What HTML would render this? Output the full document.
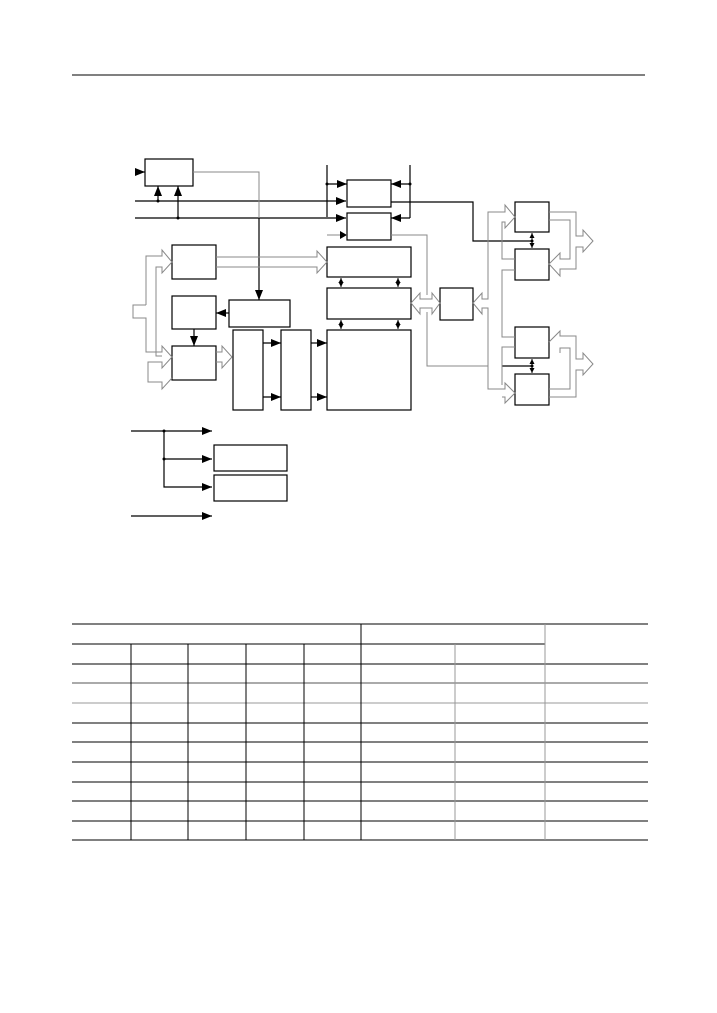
<!DOCTYPE html>
<html><head><style>body{margin:0;background:#fff}svg{display:block}</style></head>
<body>
<svg width="717" height="1013" viewBox="0 0 717 1013" xmlns="http://www.w3.org/2000/svg">
<defs>
<marker id="a" markerWidth="10" markerHeight="8" refX="10" refY="4" orient="auto" markerUnits="userSpaceOnUse"><path d="M0,0 L10,4 L0,8z" fill="#000"/></marker>
<marker id="s" markerWidth="5" markerHeight="5" refX="5" refY="2.5" orient="auto-start-reverse" markerUnits="userSpaceOnUse"><path d="M0,0 L5,2.5 L0,5z" fill="#000"/></marker>
</defs>
<line x1="72" y1="75" x2="645" y2="75" stroke="#000" stroke-width="1"/>
<g fill="none" stroke="#000" stroke-width="1.2">
<rect x="145" y="159" width="48" height="27"/>
<rect x="347" y="180" width="44" height="27"/>
<rect x="347" y="213" width="44" height="27"/>
<rect x="327" y="247" width="84" height="30"/>
<rect x="327" y="288" width="84" height="31"/>
<rect x="327" y="330" width="84" height="80"/>
<rect x="172" y="245" width="44" height="34"/>
<rect x="172" y="296" width="44" height="33"/>
<rect x="172" y="346" width="44" height="34"/>
<rect x="229" y="300" width="61" height="27"/>
<rect x="233" y="330" width="30" height="80"/>
<rect x="281" y="330" width="30" height="80"/>
<rect x="440" y="288" width="33" height="32"/>
<rect x="515" y="202" width="34" height="30"/>
<rect x="515" y="249" width="34" height="31"/>
<rect x="515" y="327" width="34" height="31"/>
<rect x="515" y="374" width="34" height="31"/>
<rect x="214" y="445" width="73" height="26"/>
<rect x="214" y="475" width="73" height="26"/>
</g>
<g stroke="#000" stroke-width="1.2" fill="none">
<line x1="137" y1="172" x2="145" y2="172" marker-end="url(#a)"/>
<line x1="135" y1="201" x2="346" y2="201" marker-end="url(#a)"/>
<line x1="135" y1="218" x2="346" y2="218" marker-end="url(#a)"/>
<line x1="158" y1="201" x2="158" y2="186" marker-end="url(#a)"/>
<line x1="178" y1="218" x2="178" y2="186" marker-end="url(#a)"/>
<line x1="259" y1="218" x2="259" y2="300" marker-end="url(#a)"/>
<line x1="229" y1="313" x2="216" y2="313" marker-end="url(#a)"/>
<line x1="194" y1="329" x2="194" y2="346" marker-end="url(#a)"/>
<line x1="263" y1="343" x2="281" y2="343" marker-end="url(#a)"/>
<line x1="263" y1="397" x2="281" y2="397" marker-end="url(#a)"/>
<line x1="311" y1="343" x2="327" y2="343" marker-end="url(#a)"/>
<line x1="311" y1="397" x2="327" y2="397" marker-end="url(#a)"/>
<line x1="327" y1="165" x2="327" y2="217"/>
<line x1="410" y1="165" x2="410" y2="218"/>
<line x1="327" y1="184" x2="347" y2="184" marker-end="url(#a)"/>
<line x1="410" y1="184" x2="391" y2="184" marker-end="url(#a)"/>
<line x1="410" y1="218" x2="391" y2="218" marker-end="url(#a)"/>
<polyline points="391,202 473,202 473,241 532,241"/>
<line x1="502" y1="366" x2="532" y2="366"/>
<line x1="131" y1="431" x2="212" y2="431" marker-end="url(#a)"/>
<polyline points="164,431 164,487 212,487" marker-end="url(#a)"/>
<line x1="164" y1="459" x2="212" y2="459" marker-end="url(#a)"/>
<line x1="131" y1="516" x2="212" y2="516" marker-end="url(#a)"/>
</g>
<g stroke="#000" stroke-width="1" marker-start="url(#s)" marker-end="url(#s)">
<line x1="341" y1="278" x2="341" y2="287"/><line x1="398" y1="278" x2="398" y2="287"/>
<line x1="341" y1="320" x2="341" y2="329"/><line x1="398" y1="320" x2="398" y2="329"/>
<line x1="532" y1="233" x2="532" y2="248"/><line x1="532" y1="359" x2="532" y2="373"/>
</g>
<g fill="#000"><circle cx="158" cy="201" r="1.5"/><circle cx="178" cy="218" r="1.5"/><circle cx="327" cy="184" r="1.5"/><circle cx="410" cy="184" r="1.5"/><circle cx="164" cy="431" r="1.5"/><circle cx="164" cy="459" r="1.5"/><circle cx="532" cy="241" r="1.5"/><circle cx="532" cy="366" r="1.5"/></g>
<g fill="none" stroke="#888" stroke-width="1">
<polyline points="193,172 259,172 259,218"/>
<polyline points="327,235 347,235"/>
<path d="M340,231 L347,235 L340,239z" fill="#000" stroke="none"/>
<polyline points="391,235 427,235 427,295"/>
<polyline points="427,312 427,366 488,366"/>
<path d="M216,257 L317,257 L317,251 L327,262 L317,273 L317,267 L216,267"/>
<path d="M216,352 L222,352 L222,346 L232,357 L222,368 L222,362 L216,362"/>
<path d="M146,305 L133,305 L133,318 L146,318 L146,352 L162,352 L162,346 L172,357 L162,368 L162,362 L148,362 L148,382 L162,382 L162,389 L172,378"/>
<path d="M146,305 L146,256 L162,256 L162,250 L172,262 L162,273 L162,267 L156,267 L156,356 L162,356"/>
<path d="M440,303 L432,293 L432,299 L420,299 L420,293 L411,303 L420,314 L420,308 L432,308 L432,314 z"/>
<path d="M473,303 L482,293 L482,299 L488,299 L488,212 L505,212 L505,205 L515,217 L505,228 L505,222 L502,222 L502,259 L515,259"/>
<path d="M473,303 L482,314 L482,308 L488,308 L488,389 L505,389 L505,383 L515,393 L505,403 L505,397 L502,397"/>
<path d="M515,270 L502,270 L502,337 L515,337 M515,347 L502,347 L502,385"/>
<path d="M549,212 L576,212 L576,236 L583,236 L583,230 L593,241 L583,252 L583,247 L576,247 L576,269 L560,269 L560,276 L549,264 L560,253 L560,259 L570,259 L570,220 L549,220"/>
<path d="M549,342 L560,331 L560,336 L576,336 L576,359 L583,359 L583,353 L593,364 L583,375 L583,370 L576,370 L576,397 L549,397 M560,353 L560,348 L570,348 L570,389 L549,389"/>
</g>
<g fill="none" stroke="#000" stroke-width="1">
<line x1="72" y1="624" x2="648" y2="624"/>
<line x1="72" y1="644" x2="545" y2="644"/>
<line x1="72" y1="664" x2="648" y2="664"/>
<line x1="72" y1="683" x2="648" y2="683" stroke="#555"/>
<line x1="72" y1="703" x2="648" y2="703" stroke="#999"/>
<line x1="72" y1="723" x2="648" y2="723"/>
<line x1="72" y1="742" x2="648" y2="742"/>
<line x1="72" y1="762" x2="648" y2="762"/>
<line x1="72" y1="782" x2="648" y2="782"/>
<line x1="72" y1="801" x2="648" y2="801"/>
<line x1="72" y1="821" x2="648" y2="821"/>
<line x1="72" y1="840" x2="648" y2="840"/>
<line x1="131" y1="644" x2="131" y2="840"/>
<line x1="188" y1="644" x2="188" y2="840"/>
<line x1="246" y1="644" x2="246" y2="840"/>
<line x1="304" y1="644" x2="304" y2="840"/>
<line x1="361" y1="624" x2="361" y2="840"/>
<line x1="455" y1="644" x2="455" y2="840" stroke="#999"/>
<line x1="545" y1="624" x2="545" y2="840" stroke="#999"/>
</g>
</svg>
</body></html>
